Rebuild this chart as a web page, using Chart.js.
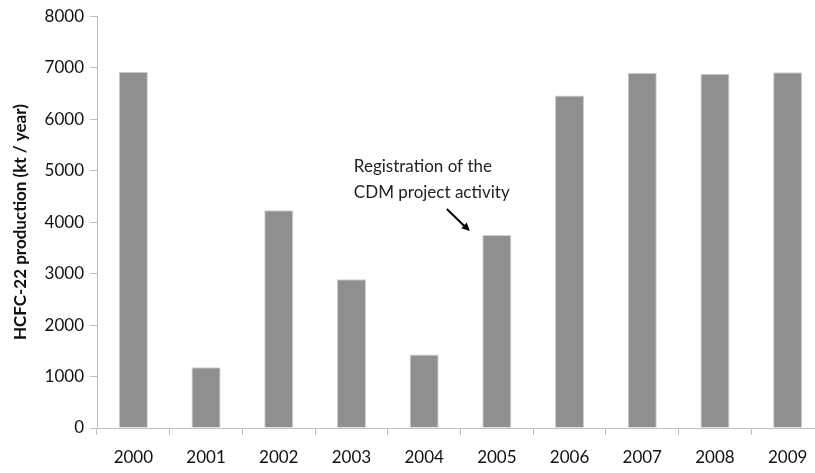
<!DOCTYPE html>
<html>
<head>
<meta charset="utf-8">
<script src="https://cdn.jsdelivr.net/npm/chart.js@4.4.1/dist/chart.umd.min.js"></script>
<style>
  html, body { margin: 0; padding: 0; background: #fff; overflow: hidden; }
  #wrap { width: 815px; height: 473px; overflow: hidden; }
  #box { width: 826px; height: 473px; }
</style>
</head>
<body>
<div id="wrap"><div id="box"><canvas id="c"></canvas></div></div>
<script>
const years = ['2000', '2001', '2002', '2003', '2004', '2005', '2006', '2007', '2008', '2009'];
const production = [6920, 1180, 4230, 2890, 1430, 3750, 6460, 6900, 6880, 6910];
const yMin = 0, yMax = 8000, yStep = 1000;
const yTitle = 'HCFC-22 production (kt / year)';
const noteLines = ['Registration of the', 'CDM project activity'];
const noteIndex = 5;

const FONT = 'Lato, "Open Sans", sans-serif';
const AXIS = '#bfbfbf';

// note with arrow pointing to the 2005 bar
const notePlugin = {
  id: 'note',
  afterDraw(chart) {
    const { ctx, scales: { x, y } } = chart;
    const bx = x.getPixelForValue(noteIndex);
    const by = y.getPixelForValue(production[noteIndex]);
    const ex = bx - 27, ey = by - 4;
    const sx = ex - 23, sy = ey - 22;
    ctx.save();
    ctx.strokeStyle = '#000';
    ctx.fillStyle = '#000';
    ctx.lineWidth = 2;
    ctx.beginPath();
    ctx.moveTo(sx, sy);
    ctx.lineTo(ex - 4, ey - 3.5);
    ctx.stroke();
    const a = Math.atan2(ey - sy, ex - sx);
    ctx.beginPath();
    ctx.moveTo(ex, ey);
    ctx.lineTo(ex - 9 * Math.cos(a - 0.45), ey - 9 * Math.sin(a - 0.45));
    ctx.lineTo(ex - 9 * Math.cos(a + 0.45), ey - 9 * Math.sin(a + 0.45));
    ctx.closePath();
    ctx.fill();
    ctx.font = '17px ' + FONT;
    ctx.fillStyle = '#222';
    ctx.textAlign = 'left';
    ctx.textBaseline = 'middle';
    const tx = sx - 93;
    noteLines.forEach((line, i) => ctx.fillText(line, tx, sy - 42 + i * 26));
    ctx.restore();
  }
};

new Chart(document.getElementById('c'), {
  type: 'bar',
  data: {
    labels: years,
    datasets: [{
      data: production,
      backgroundColor: '#8f8f8f',
      borderColor: '#cfcfcf',
      borderWidth: 1,
      categoryPercentage: 1,
      barPercentage: 0.4
    }]
  },
  options: {
    responsive: true,
    maintainAspectRatio: false,
    animation: false,
    layout: { padding: { top: 15, right: 2, left: 0, bottom: 0 } },
    plugins: { legend: { display: false }, tooltip: { enabled: false } },
    scales: {
      x: {
        grid: { drawOnChartArea: false, color: AXIS, tickLength: 7 },
        border: { color: AXIS },
        ticks: { color: '#111', padding: 12, font: { family: FONT, size: 17 } },
        afterFit(s) { s.height = 45; }
      },
      y: {
        min: yMin, max: yMax,
        grid: { drawOnChartArea: false, color: AXIS, tickLength: 7 },
        border: { color: AXIS },
        ticks: { stepSize: yStep, color: '#111', padding: 6, font: { family: FONT, size: 17 },
                 callback: v => String(v) },
        title: { display: true, text: yTitle, color: '#111', padding: { top: 10, bottom: 0 },
                 font: { family: FONT, size: 17, weight: 'bold' } },
        afterFit(s) { s.width = 97; }
      }
    }
  },
  plugins: [notePlugin]
});
</script>
</body>
</html>
